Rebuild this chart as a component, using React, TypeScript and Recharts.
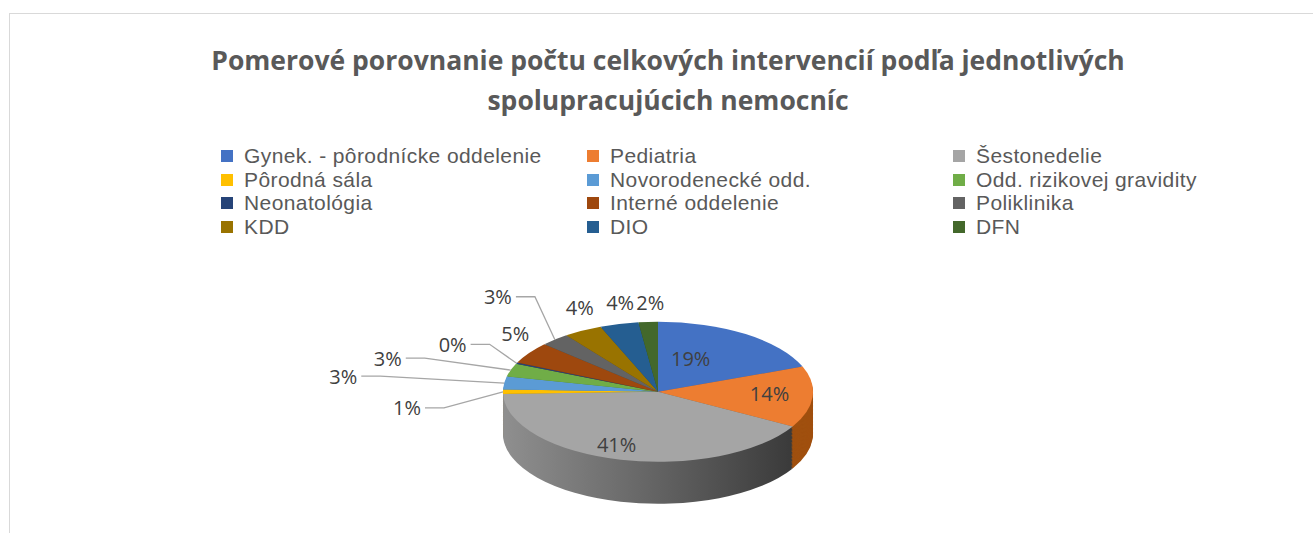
import { PieChart, Pie, Cell } from 'recharts';

const categories = [
  'Gynek. - pôrodnícke oddelenie',
  'Pediatria',
  'Šestonedelie',
  'Pôrodná sála',
  'Novorodenecké odd.',
  'Odd. rizikovej gravidity',
  'Neonatológia',
  'Interné oddelenie',
  'Poliklinika',
  'KDD',
  'DIO',
  'DFN',
];

// share of all interventions, in percent
const values = [19, 14, 41, 1, 3, 3, 0.3, 5, 3, 4, 4, 2];

const title = [
  'Pomerové porovnanie počtu celkových intervencií podľa jednotlivých',
  'spolupracujúcich nemocníc',
];

const COLORS = [
  '#4472C4', '#ED7D31', '#A5A5A5', '#FFC000', '#5B9BD5', '#70AD47',
  '#264478', '#9E480E', '#636363', '#997300', '#255E91', '#43682B',
];
const SIDE = [
  '#2f5597', '#a0500f', 'url(#sideGray)', '#b38700', '#3f77aa', '#4e7a31',
  '#1a2f54', '#6e320a', '#454545', '#6b5000', '#1a4266', '#2f491e',
];

const data = categories.map((name, i) => ({ name, value: values[i] }));

// label placement, relative to each slice's rim point
const labelNudge = [
  [-55, 24], [-43, -4], [-4, -15], [-96, 16], [-161, -7], [-123, -12],
  [-64, -19], [-14, -20], [-57, -43], [-3, -23], [1, -22], [2, -20],
];
const leader = [false, false, false, true, true, true, true, false, true, false, false, false];

const W = 1313;
const H = 533;
const CX = 658;
const CY = 392;
const RX = 155;
const RY = 70;
const DEPTH = 42;
const K = RY / RX;
const RAD = Math.PI / 180;

const U = RX + 4; // unscaled centre inside the squashed chart
const depthU = DEPTH / K;
const STEP = 3;
const offsets: number[] = [];
for (let d = Math.ceil(depthU / STEP) * STEP; d > 0; d -= STEP) offsets.push(d);

const FONT = '"Open Sans", "Noto Sans", sans-serif';
const LEGEND_FONT = '"Liberation Sans", Arial, sans-serif';

const renderLabel = (props: any) => {
  const { midAngle, percent, index } = props;
  const cx = props.cx ?? CX;
  const cy = props.cy ?? CY;
  const r = props.outerRadius ?? RX;
  const ex = cx + r * Math.cos(-midAngle * RAD);
  const ey = cy + r * K * Math.sin(-midAngle * RAD);
  const [dx, dy] = labelNudge[index];
  const tx = ex + dx;
  const ty = ey + dy;
  return (
    <g key={`lbl-${index}`}>
      {leader[index] && (
        <polyline
          points={`${tx + 18},${ty} ${tx + 37},${ty} ${ex},${ey}`}
          fill="none"
          stroke="#a6a6a6"
          strokeWidth={1.3}
        />
      )}
      <text
        x={tx}
        y={ty}
        textAnchor="middle"
        dominantBaseline="central"
        fill="#404040"
        fontSize={20}
        fontFamily={FONT}
      >
        {`${Math.round(percent * 100)}%`}
      </text>
    </g>
  );
};

export default function App() {
  return (
    <div style={{ position: 'absolute', left: 0, top: 0, width: W, height: H, background: '#fff', overflow: 'hidden', fontFamily: FONT }}>
      <div style={{ position: 'absolute', left: 9, top: 13, width: W, height: H, border: '1px solid #d9d9d9', boxSizing: 'border-box' }} />

      {title.map((t, i) => (
        <div
          key={t}
          style={{
            position: 'absolute', left: 0, width: 1336, top: 42 + i * 40, textAlign: 'center',
            fontSize: 26.5, fontWeight: 700, color: '#595959', lineHeight: '36px', whiteSpace: 'nowrap',
          }}
        >
          {t}
        </div>
      ))}

      {categories.map((c, i) => {
        const col = i % 3;
        const row = Math.floor(i / 3);
        return (
          <div
            key={c}
            style={{ position: 'absolute', left: 221 + col * 366, top: 146 + row * 23.5, height: 20, display: 'flex', alignItems: 'center', whiteSpace: 'nowrap' }}
          >
            <span style={{ width: 12, height: 12, background: COLORS[i], display: 'inline-block' }} />
            <span style={{ marginLeft: 11, fontSize: 21, lineHeight: '20px', letterSpacing: 0.4, fontFamily: LEGEND_FONT, color: '#595959' }}>{c}</span>
          </div>
        );
      })}

      {/* squashed pie: stacked copies give the 3D side */}
      <div
        style={{
          position: 'absolute', left: CX - U, top: CY - U * K,
          width: 2 * U, height: 2 * U + depthU + 4,
          transform: `scaleY(${K})`, transformOrigin: '0 0',
        }}
      >
        <PieChart width={2 * U} height={2 * U + depthU + 4} margin={{ top: 0, right: 0, bottom: 0, left: 0 }}>
          <defs>
            <linearGradient id="sideGray" x1="0" y1="0" x2="1" y2="0">
              <stop offset="0%" stopColor="#8f8f8f" />
              <stop offset="45%" stopColor="#6a6a6a" />
              <stop offset="100%" stopColor="#3a3a3a" />
            </linearGradient>
          </defs>
          {offsets.map((d) => (
            <Pie
              key={`side-${d}`}
              data={data}
              dataKey="value"
              nameKey="name"
              cx={U}
              cy={U + d}
              outerRadius={RX}
              startAngle={90}
              endAngle={-270}
              stroke="none"
              isAnimationActive={false}
            >
              {data.map((_, i) => (
                <Cell key={`s-${d}-${i}`} fill={SIDE[i]} stroke="none" />
              ))}
            </Pie>
          ))}
          <Pie
            data={data}
            dataKey="value"
            nameKey="name"
            cx={U}
            cy={U}
            outerRadius={RX}
            startAngle={90}
            endAngle={-270}
            stroke="none"
            isAnimationActive={false}
          >
            {data.map((_, i) => (
              <Cell key={`t-${i}`} fill={COLORS[i]} stroke="none" />
            ))}
          </Pie>
        </PieChart>
      </div>

      {/* labels on an unsquashed overlay */}
      <div style={{ position: 'absolute', left: 0, top: 0 }}>
        <PieChart width={W} height={H} margin={{ top: 0, right: 0, bottom: 0, left: 0 }}>
          <Pie
            data={data}
            dataKey="value"
            nameKey="name"
            cx={CX}
            cy={CY}
            outerRadius={RX}
            startAngle={90}
            endAngle={-270}
            fill="none"
            stroke="none"
            label={renderLabel}
            labelLine={false}
            isAnimationActive={false}
          >
            {data.map((_, i) => (
              <Cell key={`o-${i}`} fill="none" stroke="none" />
            ))}
          </Pie>
        </PieChart>
      </div>
    </div>
  );
}
